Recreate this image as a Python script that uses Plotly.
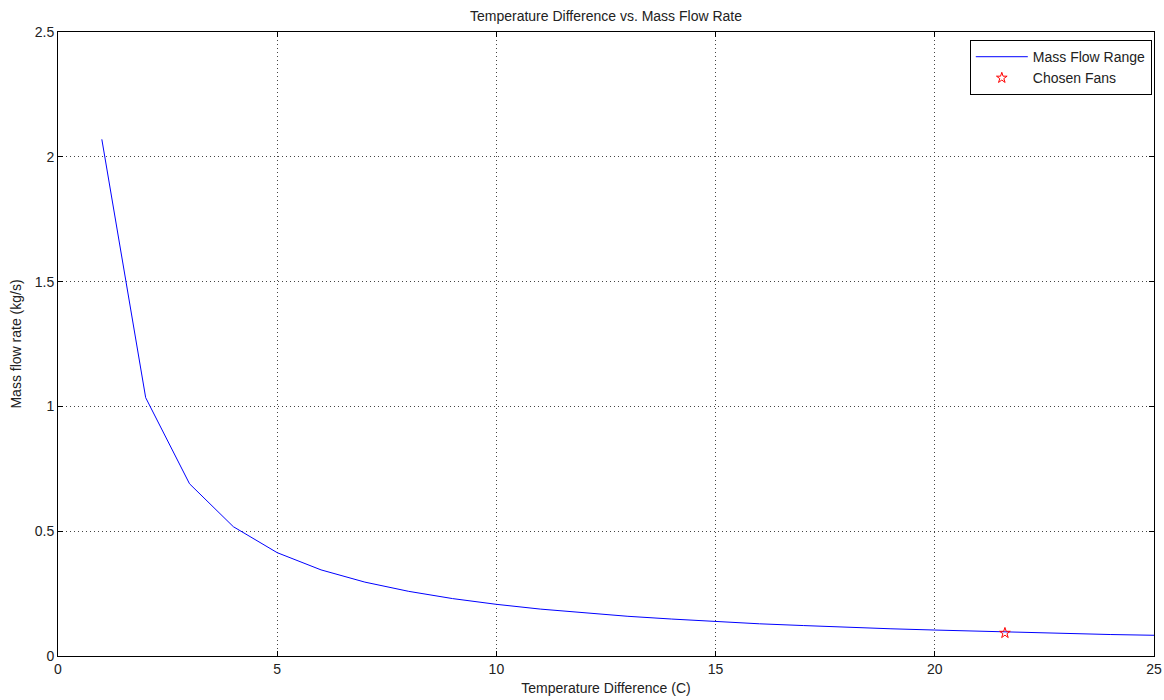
import plotly.graph_objects as go

temp_diff = [1, 2, 3, 4, 5, 6, 7, 8, 9, 10, 11, 12, 13, 14, 15, 16, 17, 18, 19, 20, 21, 22, 23, 24, 25]
mass_flow = [2.07, 1.035, 0.69, 0.518, 0.414, 0.345, 0.296, 0.259, 0.23, 0.207, 0.188, 0.173,
             0.159, 0.148, 0.138, 0.129, 0.122, 0.115, 0.109, 0.104, 0.099, 0.094, 0.090, 0.086, 0.083]
chosen_x = [21.6]
chosen_y = [0.092]

x_ticks = [0, 5, 10, 15, 20, 25]
y_ticks = [0, 0.5, 1, 1.5, 2, 2.5]
y_tick_text = ["0", "0.5", "1", "1.5", "2", "2.5"]

font = "Liberation Sans, Arial, sans-serif"
txt = "#222"

fig = go.Figure()
fig.add_trace(go.Scatter(x=temp_diff, y=mass_flow, mode="lines", name="Mass Flow Range",
                         line=dict(color="#0000ff", width=1)))
fig.add_trace(go.Scatter(x=chosen_x, y=chosen_y, mode="markers", name="Chosen Fans",
                         marker=dict(symbol="star-open", color="#ff0000", size=8,
                                     line=dict(color="#ff0000", width=1))))

axis_common = dict(
    showline=True, linecolor="black", linewidth=1, mirror="ticks",
    ticks="inside", ticklen=5, tickcolor="black",
    showgrid=True, gridcolor="#444", griddash="1px,3px", gridwidth=1,
    zeroline=False, automargin=False,
    tickfont=dict(family=font, size=14, color=txt),
)

fig.update_layout(
    width=1164, height=700,
    margin=dict(l=58, r=10, t=32, b=44),
    paper_bgcolor="white", plot_bgcolor="white",
    title=dict(text="Temperature Difference vs. Mass Flow Rate", x=0.5, xanchor="center",
               xref="paper", y=0.977, yanchor="middle",
               font=dict(family=font, size=14, color=txt)),
    xaxis=dict(range=[0, 25], tickvals=x_ticks, ticktext=[str(v) for v in x_ticks],
               title=dict(text="Temperature Difference (C)", standoff=7,
                          font=dict(family=font, size=14, color=txt)),
               **axis_common),
    yaxis=dict(range=[0, 2.5], tickvals=y_ticks, ticktext=y_tick_text,
               title=dict(text="Mass flow rate (kg/s)", standoff=9,
                          font=dict(family=font, size=14, color=txt)),
               **axis_common),
    legend=dict(x=0.998, y=0.987, xanchor="right", yanchor="top",
                bordercolor="black", borderwidth=1, bgcolor="white",
                font=dict(family=font, size=14, color=txt),
                tracegroupgap=0, itemwidth=52),
    showlegend=True,
)

fig.write_html("out.html", config={"displayModeBar": False},
               post_script="document.body.style.margin='0';")
